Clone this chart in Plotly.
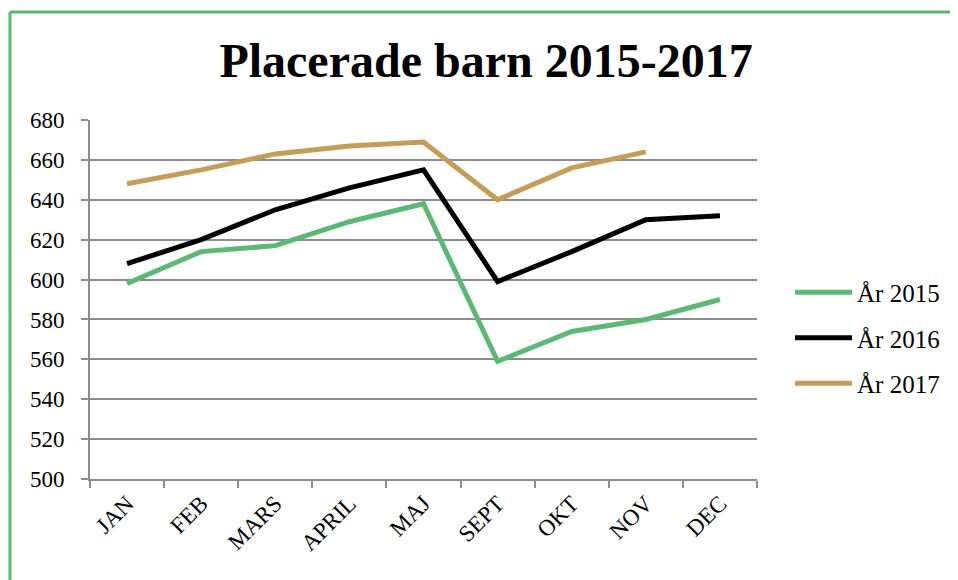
import plotly.graph_objects as go

months = ["JAN", "FEB", "MARS", "APRIL", "MAJ", "SEPT", "OKT", "NOV", "DEC"]
ar_2015 = [598, 614, 617, 629, 638, 559, 574, 580, 590]
ar_2016 = [608, 620, 635, 646, 655, 599, 614, 630, 632]
ar_2017 = [648, 655, 663, 667, 669, 640, 656, 664, None]

series = [
    ("År 2015", ar_2015, "#5cb874"),
    ("År 2016", ar_2016, "#000000"),
    ("År 2017", ar_2017, "#c49d59"),
]

# page has an 8px body margin, so the figure is drawn 8px smaller and shifted
OFF = 8
W, H = 958 - OFF, 580 - OFF
L, R, T, B = 90 - OFF, 201, 120 - OFF, 101
pw, ph = W - L - R, H - T - B


def px_x(x):
    return (x - OFF - L) / pw


def px_y(y):
    return (H - B - (y - OFF)) / ph


FONT = "'Times New Roman', 'Liberation Serif', 'DejaVu Serif', serif"
GRID = "#8c8c8c"

fig = go.Figure()
for i, (name, vals, col) in enumerate(series):
    fig.add_trace(go.Scatter(
        x=months, y=vals, name=name, mode="lines",
        line=dict(color=col, width=5),
        legendgroup=str(i),
    ))

# green frame on the left and top
frame = "#5cb874"
fig.add_shape(type="line", xref="paper", yref="paper",
              x0=px_x(10), x1=px_x(10), y0=px_y(585), y1=px_y(12),
              line=dict(color=frame, width=3))
fig.add_shape(type="line", xref="paper", yref="paper",
              x0=px_x(10), x1=px_x(965), y0=px_y(12), y1=px_y(12),
              line=dict(color=frame, width=3))

fig.update_layout(
    width=W, height=H,
    margin=dict(l=L, r=R, t=T, b=B),
    paper_bgcolor="white", plot_bgcolor="white",
    font=dict(family=FONT, color="black", size=23),
    title=dict(text="<b>Placerade barn 2015-2017</b>",
               font=dict(family=FONT, size=48, color="black"),
               x=(486 - OFF) / W, xanchor="center", xref="container",
               y=1 - (60 - OFF) / H, yanchor="middle", yref="container"),
    legend=dict(x=px_x(790), xanchor="left", y=px_y(338), yanchor="middle",
                font=dict(family=FONT, size=25), itemwidth=57,
                tracegroupgap=10, bgcolor="rgba(0,0,0,0)"),
    showlegend=True,
)

fig.update_xaxes(
    type="category", range=[-0.5, 8.5],
    showgrid=False, showline=True, linecolor=GRID, linewidth=2,
    ticks="outside", tickson="boundaries", ticklen=7, tickcolor=GRID, tickwidth=2,
    tickangle=-45, tickfont=dict(family=FONT, size=23),
)
fig.update_yaxes(
    range=[500, 680], dtick=20,
    showgrid=True, gridcolor=GRID, gridwidth=2,
    showline=True, linecolor=GRID, linewidth=2,
    ticks="outside", ticklen=7, tickcolor=GRID, tickwidth=2,
    ticklabelstandoff=12, zeroline=False,
    tickfont=dict(family=FONT, size=23),
)

fig.write_html("out.html")
